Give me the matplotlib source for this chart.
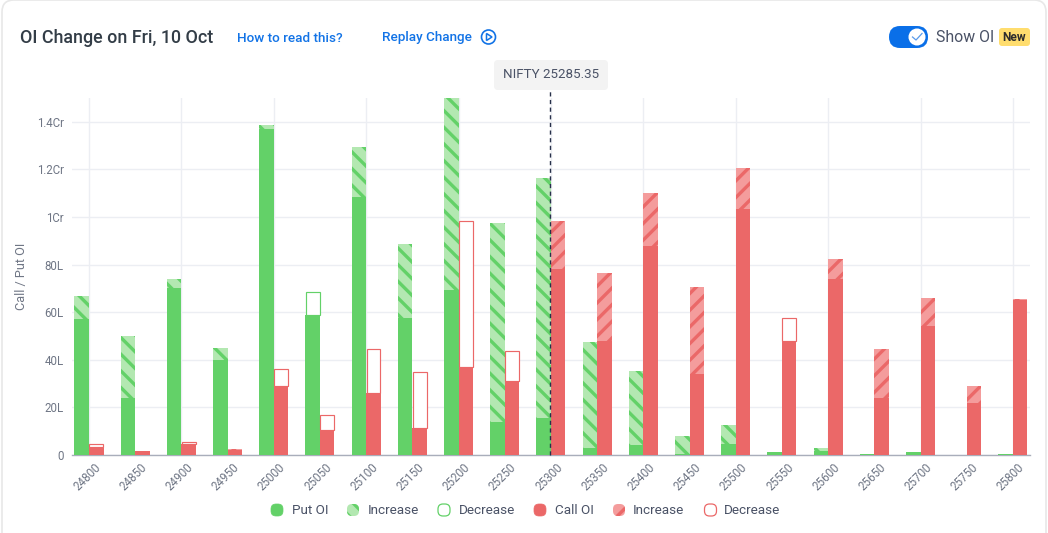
import matplotlib
matplotlib.use('Agg')
import matplotlib.pyplot as plt
from matplotlib.patches import FancyBboxPatch, Circle, Polygon
from matplotlib.transforms import ScaledTranslation

plt.rcParams['font.family'] = ['Roboto', 'DejaVu Sans']
plt.rcParams['hatch.linewidth'] = 2.4

strikes = ['24800', '24850', '24900', '24950', '25000', '25050', '25100', '25150', '25200', '25250', '25300',
           '25350', '25400', '25450', '25500', '25550', '25600', '25650', '25700', '25750', '25800']
# OI in lakhs, at the start and the end of the day
put_start = [57, 24, 70, 40, 137, 68.5, 108.5, 57.5, 69.5, 14, 15.5,
             3, 4, 0.5, 4.5, 1.2, 1.5, 0.3, 1.2, 0, 0.5]
put_end = [67, 50, 74, 45, 138.5, 59, 129.5, 88.5, 150, 97.5, 116.5,
           47.5, 35.5, 8, 12.5, 1.2, 3, 0.3, 1.2, 0, 0.5]
call_start = [4.5, 1.5, 5.5, 2, 36, 17, 44.5, 35, 98.5, 43.5, 78,
              48, 88, 34, 103.5, 57.5, 74, 24, 54, 22, 65]
call_end = [3.5, 1.5, 4.5, 2.5, 29, 10.5, 26, 11.5, 37, 31, 98.5,
            76.5, 110, 70.5, 120.5, 48, 82.5, 44.5, 66, 29, 65.5]

y_ticks = [0, 20, 40, 60, 80, 100, 120, 140]
y_labels = ['0', '20L', '40L', '60L', '80L', '1Cr', '1.2Cr', '1.4Cr']
nifty_pos = 9.98

GREEN = '#63d168'
GREEN_L = '#b3e8b1'
RED = '#eb6868'
RED_L = '#f49c9c'
GRID = '#eceef3'
TEXT = '#6f7685'
W, H = 1048, 533
BAR_W = 0.314

fig = plt.figure(figsize=(W / 100, H / 100), dpi=100, facecolor='white')

# overlay in pixel coordinates for the page furniture
pg = fig.add_axes([0, 0, 1, 1], zorder=0)
pg.set_xlim(0, W)
pg.set_ylim(H, 0)
pg.axis('off')

ax = fig.add_axes([72 / W, 1 - 455 / H, (1030 - 72) / W, (455 - 98) / H], zorder=1)
ax.patch.set_alpha(0)
ax.set_xlim(-0.368, 20.37)
ax.set_ylim(0, 150)


def draw_oi(x, start, end, solid, light):
    low, high = min(start, end), max(start, end)
    if low > 0:
        ax.bar(x, low, BAR_W, color=solid, linewidth=0, zorder=3)
    if end > start:
        ax.bar(x, high - low, BAR_W, bottom=low, facecolor=light, edgecolor=solid,
               hatch='\\\\' if solid == GREEN else '//', linewidth=0, zorder=3)
    elif start > end:
        ax.bar(x, high - low, BAR_W * 0.95, bottom=low, facecolor='white', edgecolor=solid,
               linewidth=0.85, zorder=3)


for i in range(len(strikes)):
    draw_oi(i - BAR_W / 2, put_start[i], put_end[i], GREEN, GREEN_L)
for i in range(len(strikes)):
    draw_oi(i + BAR_W / 2, call_start[i], call_end[i], RED, RED_L)

ax.set_xticks(range(len(strikes)))
ax.set_xticklabels(strikes, rotation=45, ha='right', rotation_mode='anchor', fontsize=8.4, color=TEXT)
ax.set_yticks(y_ticks)
ax.set_yticklabels(y_labels, fontsize=8.3, color=TEXT)
ax.tick_params(axis='both', length=0, pad=6)
ax.tick_params(axis='x', pad=4)
# rotated labels sit a bit right of their tick in the reference
shift = ScaledTranslation(5 / 100, 0, fig.dpi_scale_trans)
for lbl in ax.get_xticklabels():
    lbl.set_transform(lbl.get_transform() + shift)
ax.set_axisbelow(True)
ax.grid(axis='y', color=GRID, linewidth=1)
for i in range(0, len(strikes), 2):
    ax.axvline(i, color=GRID, linewidth=1, zorder=1)
for s in ['top', 'right', 'left']:
    ax.spines[s].set_visible(False)
ax.spines['bottom'].set_color('#a9aebb')
ax.spines['bottom'].set_linewidth(1)
ax.set_ylabel('Call / Put OI', fontsize=9.2, color=TEXT, labelpad=0)
ax.yaxis.set_label_coords((28 - 72) / (1030 - 72), 0.5)

# spot line runs a little above the plot area
ax.plot([nifty_pos, nifty_pos], [0, 153], color='#27304a', linewidth=1, dashes=(3, 2.5), clip_on=False, zorder=5)

# card border
pg.add_patch(FancyBboxPatch((2, 0), W - 4, H + 20, boxstyle='round,pad=0,rounding_size=12',
                            facecolor='white', edgecolor='#e8e8e8', linewidth=1.2))

# header
pg.text(20, 38, 'OI Change on Fri, 10 Oct', fontsize=12.9, fontweight='medium', color='#333d47', va='center')
pg.text(237, 38, 'How to read this?', fontsize=9.7, fontweight='medium', color='#1273e6', va='center')
pg.text(382, 37.5, 'Replay Change', fontsize=9.7, fontweight='medium', color='#1273e6', va='center')
pg.add_patch(Circle((488.5, 37), 7, facecolor='none', edgecolor='#1273e6', linewidth=1.2))
pg.add_patch(Polygon([(486.5, 33.5), (486.5, 40.5), (492, 37)], closed=True, facecolor='none',
                     edgecolor='#1273e6', linewidth=1.1))

# toggle and badge
pg.add_patch(FancyBboxPatch((889, 26), 39, 22, boxstyle='round,pad=0,rounding_size=11',
                            facecolor='#0a6fe8', edgecolor='none'))
pg.add_patch(Circle((917, 37), 8.5, facecolor='white', edgecolor='none'))
pg.plot([912.5, 916, 922], [37, 40, 33.5], color='#5b9bea', linewidth=0.9)
pg.text(936, 37.5, 'Show OI', fontsize=11.4, color='#4a5266', va='center')
pg.add_patch(FancyBboxPatch((999, 28), 31, 18, boxstyle='round,pad=0,rounding_size=3',
                            facecolor='#ffdd6e', edgecolor='none'))
pg.text(1014.5, 37.5, 'New', fontsize=8.6, fontweight='bold', color='#2d2d2d', va='center', ha='center')

# spot label
pg.add_patch(FancyBboxPatch((494, 60), 114, 30, boxstyle='round,pad=0,rounding_size=4',
                            facecolor='#f3f3f3', edgecolor='none'))
pg.text(551, 75, 'NIFTY 25285.35', fontsize=9.6, color='#4a5266', va='center', ha='center')

# legend
legend_y = 510
items = [(277, 292, 'Put OI', GREEN, None), (353, 368, 'Increase', GREEN, GREEN_L), (444, 459, 'Decrease', GREEN, 'white'),
         (540, 555, 'Call OI', RED, None), (619, 633, 'Increase', RED, RED_L), (710.5, 724, 'Decrease', RED, 'white')]
for mx, tx, label, col, face in items:
    box = (mx - 6, legend_y - 6)
    if face is None:
        kw = dict(facecolor=col, edgecolor=col, linewidth=0.5)
    elif face == 'white':
        kw = dict(facecolor='white', edgecolor=col, linewidth=0.9)
    else:
        kw = dict(facecolor=face, edgecolor=col, linewidth=0, hatch='\\\\' if col == GREEN else '//')
    pg.add_patch(FancyBboxPatch(box, 12, 12, boxstyle='round,pad=0,rounding_size=5', **kw))
    pg.text(tx, legend_y, label, fontsize=9.7, color='#4a5266', va='center')

fig.savefig('out.png', dpi=100)
